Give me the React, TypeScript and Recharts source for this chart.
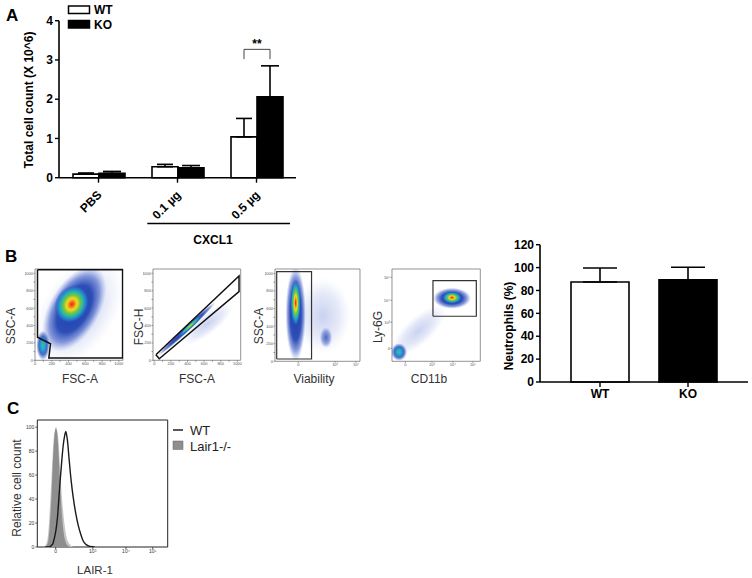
import React from 'react';
import {
  BarChart, Bar, XAxis, YAxis, ErrorBar, LabelList, Cell,
  AreaChart, Area, ScatterChart, Scatter, ReferenceArea,
} from 'recharts';

const FONT = '"Liberation Sans", Arial, Helvetica, sans-serif';

// ---------- Panel A : total cell count ----------
const doseCats = ['PBS', '0.1 µg', '0.5 µg'];
const wtCount = [0.09, 0.28, 1.04];
const wtCountErr = [0.03, 0.06, 0.47];
const koCount = [0.11, 0.25, 2.06];
const koCountErr = [0.05, 0.06, 0.79];
const countTicks = [0, 1, 2, 3, 4];
const groupNames = ['WT', 'KO'];
const groupFills = ['#ffffff', '#000000'];
const sigCat = '0.5 µg';
const sigTop = 3.27;
const sigLeg = 3.02;
const sigText = '**';

// ---------- Panel B : neutrophils ----------
const neutroGroups = ['WT', 'KO'];
const neutroPct = [87.4, 89.4];
const neutroErr = [12.2, 10.9];
const neutroTicks = [0, 20, 40, 60, 80, 100, 120];

// ---------- Panel C : LAIR-1 histogram ----------
const lairChannel = [60, 80, 100, 110, 120, 130, 143, 155, 165, 175, 190, 200, 210, 218, 230, 245, 260, 276, 295, 314, 335, 352, 375, 404, 440];
const lairKO = [0, 3, 25, 45, 72, 90, 100, 92, 75, 52, 25, 14, 7, 4, 1.5, 0.5, 0, 0, 0, 0, 0, 0, 0, 0, 0];
const lairKOrep = [1, 8, 40, 60, 82, 95, 98, 96, 85, 65, 40, 28, 18, 12, 6, 3, 1, 0, 0, 0, 0, 0, 0, 0, 0];
const lairWT = [0, 0, 0.5, 1.5, 3, 7, 14, 25, 40, 55, 75, 86, 93, 96.5, 90, 72, 55, 41, 28, 18, 10, 5, 2, 0.5, 0];
const lairXTicks = [141, 425, 680, 885];
const lairXLabels = ['0', '10³', '10⁴', '10⁵'];
const lairYTicks = [0, 20, 40, 60, 80, 100];
const histNames = ['WT', 'Lair1-/-'];

// ---------- Panel B : flow cytometry gating ----------
const linTicks = [0, 100, 200, 300, 400, 500, 600, 700, 800, 900, 1000];
const viaTicks = [274, 706, 953];
const viaLabels = ['0', '10³', '10⁴'];
const cd11bTicks = [151, 452, 690, 917];
const ly6gTicks = [141, 423, 661, 910];
const logLabels = ['0', '10³', '10⁴', '10⁵'];

const fscSscClouds = [
  { x: 520, y: 560, a: 720, b: 420, rot: -57, kind: 'sparse' },
  { x: 470, y: 590, a: 560, b: 290, rot: -60, kind: 'body' },
  { x: 440, y: 645, a: 240, b: 190, rot: -60, kind: 'core' },
  { x: 95, y: 170, a: 80, b: 170, rot: 0, kind: 'cool' },
];
const fscSscGate = [
  { x: 30, y: 1040 }, { x: 1045, y: 1040 }, { x: 1045, y: 25 }, { x: 165, y: 25 },
  { x: 185, y: 190 }, { x: 30, y: 265 }, { x: 30, y: 1040 },
];

const singletClouds = [
  { x: 640, y: 420, a: 380, b: 120, rot: -38, kind: 'sparse' },
  { x: 390, y: 360, a: 480, b: 35, rot: -43, kind: 'body' },
  { x: 430, y: 395, a: 220, b: 28, rot: -43, kind: 'streak' },
];
const singletGate = [
  { x: 20, y: 63 }, { x: 1020, y: 970 }, { x: 1020, y: 790 }, { x: 60, y: 18 }, { x: 20, y: 63 },
];

const viaClouds = [
  { x: 560, y: 520, a: 330, b: 430, rot: 0, kind: 'sparse' },
  { x: 600, y: 270, a: 75, b: 120, rot: 0, kind: 'cluster' },
  { x: 243, y: 540, a: 120, b: 540, rot: 0, kind: 'body' },
  { x: 243, y: 665, a: 60, b: 270, rot: 0, kind: 'core' },
];
const viaGate = [
  { x: 20, y: 26 }, { x: 20, y: 1020 }, { x: 430, y: 1020 }, { x: 430, y: 26 }, { x: 20, y: 26 },
];

const neutroClouds = [
  { x: 300, y: 330, a: 400, b: 150, rot: -42, kind: 'sparse' },
  { x: 80, y: 100, a: 90, b: 95, rot: 0, kind: 'cool' },
  { x: 680, y: 683, a: 215, b: 115, rot: 0, kind: 'body' },
  { x: 680, y: 690, a: 110, b: 65, rot: 0, kind: 'core' },
];
const neutroGate = [
  { x: 464, y: 488 }, { x: 955, y: 488 }, { x: 955, y: 874 }, { x: 464, y: 874 }, { x: 464, y: 488 },
];

// ---------- tables built from arrays ----------
const countData = doseCats.map((cat, i) => ({
  cat,
  wt: wtCount[i],
  wtE: [0, wtCountErr[i]],
  ko: koCount[i],
  koE: [0, koCountErr[i]],
}));
const neutroData = neutroGroups.map((g, i) => ({ g, v: neutroPct[i], e: [0, neutroErr[i]] }));
const histData = lairChannel.map((x, i) => ({ x, ko: lairKO[i], koRep: lairKOrep[i], wt: lairWT[i] }));

const boldTick = { fontSize: 12, fontWeight: 'bold' as const, fill: '#000', fontFamily: FONT };

const DoseTick = (props: any) => {
  const { x, y, payload } = props;
  const ax = x + 4;
  const ay = y + 11;
  return (
    <text x={ax} y={ay} transform={`rotate(-45 ${ax} ${ay})`} textAnchor="end"
      fontSize={12} fontWeight="bold" fontFamily={FONT} fill="#000">{payload.value}</text>
  );
};

const SigLabel = (props: any) => {
  const idx = props.index;
  const v = Number(props.value);
  const sigIdx = doseCats.indexOf(sigCat);
  const isSig = idx !== undefined ? idx === sigIdx : v === koCount[sigIdx];
  if (!isSig) return null;
  const vb = props.viewBox || {};
  const x = Number(props.x ?? vb.x);
  const y = Number(props.y ?? vb.y);
  const w = Number(props.width ?? vb.width);
  const h = Number(props.height ?? vb.height);
  const ppu = h / v;
  const base = y + h;
  const yt = base - sigTop * ppu;
  const yl = base - sigLeg * ppu;
  const x1 = x - w / 2;
  const x2 = x + w / 2;
  return (
    <g>
      <path d={`M${x1},${yl} L${x1},${yt} L${x2},${yt} L${x2},${yl}`} fill="none" stroke="#444" strokeWidth={1} />
      <text x={(x1 + x2) / 2} y={yt - 1} textAnchor="middle" fontSize={12} fontWeight="bold" fontFamily={FONT} fill="#000">{sigText}</text>
    </g>
  );
};

type FlowProps = {
  left: number; top: number; w: number; h: number;
  xDomain: [number, number]; yDomain: [number, number];
  xTicks: number[]; yTicks: number[];
  xFmt: (v: number, i: number) => string; yFmt: (v: number, i: number) => string;
  clouds: any[]; gate: any[]; gateColor: string; gateWidth: number;
};

const linFmt = (v: number) => (v % 200 === 0 ? String(v) : '');

function FlowPlot(p: FlowProps) {
  const yw = 10, xh = 8, mt = 3, mr = 2, mb = 2;
  const kx = p.w / (p.xDomain[1] - p.xDomain[0]);
  const ky = p.h / (p.yDomain[1] - p.yDomain[0]);
  const shape = (s: any) => {
    const d = s.payload;
    return (
      <ellipse cx={s.cx} cy={s.cy} rx={d.a * kx} ry={d.b * ky}
        transform={`rotate(${d.rot} ${s.cx} ${s.cy})`} fill={`url(#g-${d.kind})`} />
    );
  };
  const tickStyle = { fontSize: 4, fill: '#555', fontFamily: FONT };
  return (
    <div style={{ position: 'absolute', left: p.left - yw, top: p.top - mt }}>
      <ScatterChart width={p.w + yw + mr} height={p.h + mt + xh + mb} margin={{ top: mt, right: mr, bottom: mb, left: 0 }}>
        <XAxis type="number" dataKey="x" domain={p.xDomain} allowDataOverflow ticks={p.xTicks}
          tickFormatter={p.xFmt} height={xh} axisLine={false} tickSize={1.5} tickMargin={0.5}
          tick={tickStyle} tickLine={{ stroke: '#555', strokeWidth: 0.6 }} interval={0} />
        <YAxis type="number" dataKey="y" domain={p.yDomain} allowDataOverflow ticks={p.yTicks}
          tickFormatter={p.yFmt} width={yw} axisLine={false} tickSize={1.5} tickMargin={0.5}
          tick={tickStyle} tickLine={{ stroke: '#555', strokeWidth: 0.6 }} interval={0} />
        <ReferenceArea x1={p.xDomain[0]} x2={p.xDomain[1]} y1={p.yDomain[0]} y2={p.yDomain[1]}
          fill="none" stroke="#777" strokeWidth={0.8} ifOverflow="visible" />
        <Scatter data={p.clouds} shape={shape} isAnimationActive={false} />
        <Scatter data={p.gate} line={{ stroke: p.gateColor, strokeWidth: p.gateWidth }}
          shape={() => <g />} isAnimationActive={false} />
      </ScatterChart>
    </div>
  );
}

function Gradients() {
  const stops = (arr: [number, string, number][]) =>
    arr.map(([o, c, op], i) => <stop key={i} offset={o} stopColor={c} stopOpacity={op} />);
  return (
    <svg width={0} height={0} style={{ position: 'absolute', left: 0, top: 0 }}>
      <defs>
        <radialGradient id="g-sparse">{stops([[0, '#4a66c8', 0.3], [0.6, '#6a82d8', 0.17], [1, '#9aaae8', 0]])}</radialGradient>
        <radialGradient id="g-body">{stops([[0, '#1f3fae', 1], [0.55, '#2446b2', 0.95], [0.78, '#3d5cc4', 0.6], [1, '#7088dd', 0]])}</radialGradient>
        <radialGradient id="g-core">{stops([[0, '#e3201b', 1], [0.14, '#f3781e', 1], [0.3, '#f0dc1f', 1], [0.48, '#72c443', 1], [0.66, '#1fb3b5', 1], [0.84, '#2a78cf', 0.8], [1, '#2446b2', 0]])}</radialGradient>
        <radialGradient id="g-cool">{stops([[0, '#3fbf9a', 1], [0.3, '#25a5cc', 1], [0.6, '#2a5cc2', 0.9], [1, '#2a46b0', 0]])}</radialGradient>
        <radialGradient id="g-streak">{stops([[0, '#e2e31f', 1], [0.25, '#6cc545', 1], [0.5, '#1fb0c0', 1], [0.8, '#2a5ec4', 0.7], [1, '#2a46b0', 0]])}</radialGradient>
        <radialGradient id="g-cluster">{stops([[0, '#2d4fb8', 0.85], [0.6, '#3d5cc4', 0.5], [1, '#6a82d8', 0]])}</radialGradient>
      </defs>
    </svg>
  );
}

export default function App() {
  return (
    <div style={{ position: 'relative', width: 752, height: 578, background: '#fff', overflow: 'hidden', fontFamily: FONT }}>
      <style>{'body{margin:0;}'}</style>
      <Gradients />

      {/* Panel A */}
      <div style={{ position: 'absolute', left: 0, top: 0 }}>
        <BarChart width={310} height={250} data={countData} barGap={0}
          margin={{ top: 20.7, right: 14, bottom: 32.3, left: 0 }}>
          <XAxis dataKey="cat" height={40} tickSize={5} interval={0} tick={<DoseTick />}
            axisLine={{ stroke: '#000', strokeWidth: 1.6 }} tickLine={{ stroke: '#000', strokeWidth: 1.4 }} />
          <YAxis width={59} domain={[0, 4]} ticks={countTicks} tickSize={4} interval={0}
            tick={boldTick} axisLine={{ stroke: '#000', strokeWidth: 1.6 }} tickLine={{ stroke: '#000', strokeWidth: 1.4 }} />
          <Bar dataKey="wt" name={groupNames[0]} barSize={26} fill={groupFills[0]} stroke="#000" strokeWidth={1.6} isAnimationActive={false}>
            <ErrorBar dataKey="wtE" width={8} stroke="#000" strokeWidth={1.6} direction="y" />
          </Bar>
          <Bar dataKey="ko" name={groupNames[1]} barSize={26} fill={groupFills[1]} stroke="#000" strokeWidth={1.6} isAnimationActive={false}>
            <ErrorBar dataKey="koE" width={9} stroke="#000" strokeWidth={1.6} direction="y" />
            <LabelList dataKey="ko" content={SigLabel} />
          </Bar>
        </BarChart>
      </div>

      {/* Panel B - neutrophil bars */}
      <div style={{ position: 'absolute', left: 480, top: 236 }}>
        <BarChart width={272} height={180} data={neutroData}
          margin={{ top: 8.7, right: 4, bottom: 10, left: 0 }}>
          <XAxis dataKey="g" height={24} tickSize={5} interval={0} padding={{ left: 16, right: 16 }}
            tick={boldTick} axisLine={{ stroke: '#000', strokeWidth: 1.6 }} tickLine={{ stroke: '#000', strokeWidth: 1.4 }} />
          <YAxis width={60} domain={[0, 120]} ticks={neutroTicks} tickSize={4} interval={0}
            tick={boldTick} axisLine={{ stroke: '#000', strokeWidth: 1.6 }} tickLine={{ stroke: '#000', strokeWidth: 1.4 }} />
          <Bar dataKey="v" barSize={58} stroke="#000" strokeWidth={1.6} isAnimationActive={false}>
            {neutroData.map((d, i) => <Cell key={d.g} fill={groupFills[i]} />)}
            <ErrorBar dataKey="e" width={17} stroke="#000" strokeWidth={1.6} direction="y" />
          </Bar>
        </BarChart>
      </div>

      {/* Panel B - flow plots */}
      <FlowPlot left={35} top={268.7} w={88} h={91.3} xDomain={[0, 1050]} yDomain={[0, 1050]}
        xTicks={linTicks} yTicks={linTicks} xFmt={linFmt} yFmt={linFmt}
        clouds={fscSscClouds} gate={fscSscGate} gateColor="#111" gateWidth={1.5} />
      <FlowPlot left={153} top={268.7} w={87.7} h={91.3} xDomain={[-15, 1040]} yDomain={[0, 1050]}
        xTicks={linTicks} yTicks={linTicks} xFmt={linFmt} yFmt={linFmt}
        clouds={singletClouds} gate={singletGate} gateColor="#111" gateWidth={1.5} />
      <FlowPlot left={275} top={268.7} w={85} h={92.3} xDomain={[0, 1000]} yDomain={[0, 1050]}
        xTicks={viaTicks} yTicks={linTicks} xFmt={(v, i) => viaLabels[i] ?? ''} yFmt={linFmt}
        clouds={viaClouds} gate={viaGate} gateColor="#333" gateWidth={1.2} />
      <FlowPlot left={391.7} top={268.7} w={88.3} h={92.3} xDomain={[0, 1000]} yDomain={[0, 1000]}
        xTicks={cd11bTicks} yTicks={ly6gTicks} xFmt={(v, i) => logLabels[i] ?? ''} yFmt={(v, i) => logLabels[i] ?? ''}
        clouds={neutroClouds} gate={neutroGate} gateColor="#333" gateWidth={1.2} />

      {/* Panel C - histogram */}
      <div style={{ position: 'absolute', left: 0, top: 405 }}>
        <AreaChart width={172} height={170} data={histData} margin={{ top: 15, right: 4.3, bottom: 16, left: 0 }}>
          <XAxis type="number" dataKey="x" domain={[0, 1000]} allowDataOverflow ticks={lairXTicks}
            tickFormatter={(v, i) => lairXLabels[i] ?? ''} height={12} axisLine={false} tickSize={2} tickMargin={0.5}
            tick={{ fontSize: 5, fill: '#333', fontFamily: FONT }} tickLine={{ stroke: '#333', strokeWidth: 0.8 }} interval={0} />
          <YAxis domain={[0, 106]} allowDataOverflow ticks={lairYTicks} width={37.3} axisLine={false} tickSize={2} tickMargin={1}
            tick={{ fontSize: 5, fill: '#333', fontFamily: FONT }} tickLine={{ stroke: '#333', strokeWidth: 0.8 }} interval={0} />
          <ReferenceArea x1={0} x2={1000} y1={0} y2={106} fill="none" stroke="#222" strokeWidth={1} ifOverflow="visible" />
          <Area dataKey="koRep" type="monotone" fill="#c6c6c6" fillOpacity={1} stroke="none" isAnimationActive={false} />
          <Area dataKey="ko" type="monotone" fill="#8e8e8e" fillOpacity={1} stroke="none" isAnimationActive={false} />
          <Area dataKey="wt" type="monotone" fill="none" stroke="#1a1a1a" strokeWidth={1.4} isAnimationActive={false} />
        </AreaChart>
      </div>

      {/* Text / annotation overlay */}
      <svg width={752} height={578} style={{ position: 'absolute', left: 0, top: 0, pointerEvents: 'none' }} fontFamily={FONT}>
        <text x={6} y={21} fontSize={17} fontWeight="bold">A</text>
        <text x={5} y={262} fontSize={17} fontWeight="bold">B</text>
        <text x={7} y={414} fontSize={17} fontWeight="bold">C</text>

        <text transform="translate(32.5,100) rotate(-90)" textAnchor="middle" fontSize={12} fontWeight="bold">Total cell count (X 10^6)</text>
        {groupNames.map((n, i) => (
          <g key={n}>
            <rect x={68.5} y={6 + 14.5 * i} width={21} height={7.5} fill={groupFills[i]} stroke="#000" strokeWidth={1.5} />
            <text x={94} y={14 + 14.5 * i} fontSize={12} fontWeight="bold">{n}</text>
          </g>
        ))}
        <line x1={147.3} x2={290} y1={223.5} y2={223.5} stroke="#000" strokeWidth={1.5} />
        <text x={213} y={244} textAnchor="middle" fontSize={12} fontWeight="bold">CXCL1</text>

        <text transform="translate(513,326) rotate(-90)" textAnchor="middle" fontSize={12} fontWeight="bold">Neutrophils (%)</text>

        <g fontSize={12} fill="#333">
          <text transform="translate(15,326) rotate(-90)" textAnchor="middle">SSC-A</text>
          <text x={80} y={383} textAnchor="middle">FSC-A</text>
          <text transform="translate(143,327) rotate(-90)" textAnchor="middle">FSC-H</text>
          <text x={197} y={383} textAnchor="middle">FSC-A</text>
          <text transform="translate(263,326) rotate(-90)" textAnchor="middle">SSC-A</text>
          <text x={314} y={383} textAnchor="middle">Viability</text>
          <text transform="translate(382,327) rotate(-90)" textAnchor="middle">Ly-6G</text>
          <text x={429} y={383} textAnchor="middle">CD11b</text>
        </g>

        <text transform="translate(20.5,488) rotate(-90)" textAnchor="middle" fontSize={12} fill="#333">Relative cell count</text>
        <text x={95} y={574} textAnchor="middle" fontSize={11.5} fill="#333">LAIR-1</text>
        <line x1={173} x2={183} y1={430} y2={430} stroke="#111" strokeWidth={1.4} />
        <text x={190} y={434.5} fontSize={13} fill="#222">{histNames[0]}</text>
        <rect x={173} y={441} width={10} height={8.5} fill="#8e8e8e" stroke="#666" strokeWidth={0.5} />
        <text x={190} y={451} fontSize={13} fill="#222">{histNames[1]}</text>
      </svg>
    </div>
  );
}
